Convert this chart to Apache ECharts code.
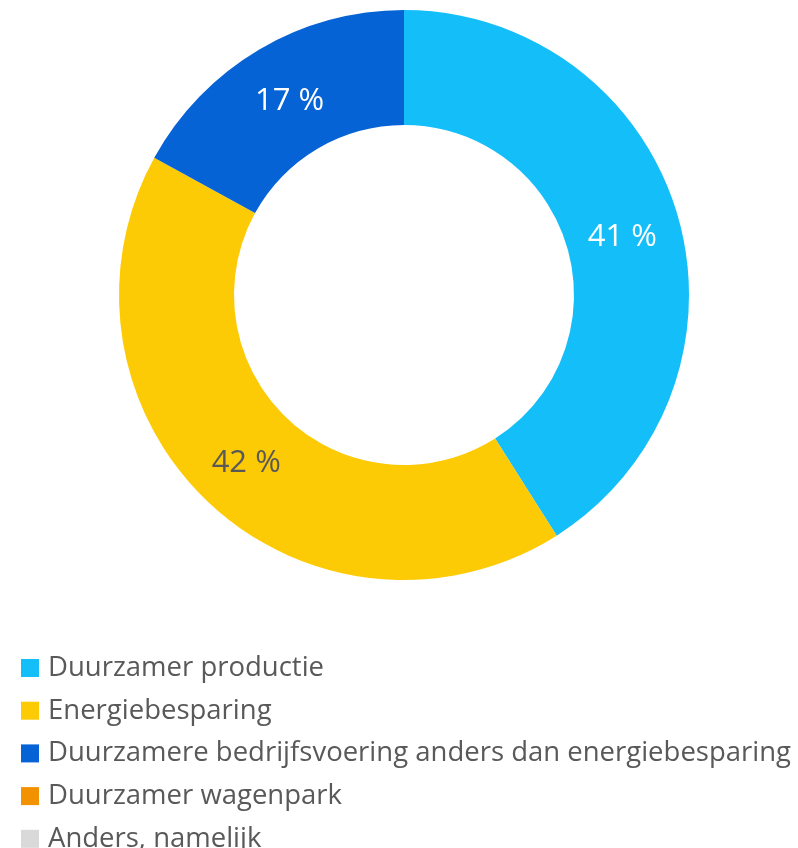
<!DOCTYPE html>
<html>
<head>
<meta charset="utf-8">
<script src="https://cdn.jsdelivr.net/npm/echarts@6/dist/echarts.min.js"></script>
<style>
  html, body { margin: 0; padding: 0; background: #fff; }
  #chart { width: 798px; height: 848px; }
</style>
</head>
<body>
<div id="chart"></div>
<script>
// categories and shares (%)
const categories = [
    'Duurzamer productie',
    'Energiebesparing',
    'Duurzamere bedrijfsvoering anders dan energiebesparing',
    'Duurzamer wagenpark',
    'Anders, namelijk'
];
const shares = [41, 42, 17, 0, 0];
const colors = ['#14BEF9', '#FDCB05', '#0563D6', '#F39200', '#D9D9D9'];
const labelColors = ['#ffffff', '#595959', '#ffffff', '#ffffff', '#ffffff'];
// small nudges so the labels sit like in the original
const labelOffsets = [[-3, 6], [0, 0], [3, 5], [0, 0], [0, 0]];

const chart = echarts.init(document.getElementById('chart'));

const data = categories.map((name, i) => ({
    name: name,
    value: shares[i],
    itemStyle: { color: colors[i] },
    label: { show: shares[i] > 0, color: labelColors[i], offset: labelOffsets[i] }
}));

chart.setOption({
    backgroundColor: '#ffffff',
    animation: false,
    textStyle: { fontFamily: 'Open Sans' },
    legend: {
        orient: 'vertical',
        left: 21,
        top: 654,
        height: 260,
        padding: 0,
        icon: 'rect',
        itemWidth: 18,
        itemHeight: 18,
        itemGap: 14.7,
        selectedMode: false,
        textStyle: {
            fontSize: 27.5, lineHeight: 23, color: '#595959',
            fontFamily: 'Open Sans', padding: [0, 0, 0, 4]
        },
        data: categories
    },
    series: [{
        type: 'pie',
        center: [404, 295],
        radius: [170, 285],
        startAngle: 90,
        clockwise: true,
        avoidLabelOverlap: false,
        label: {
            position: 'inside',
            fontSize: 31,
            fontFamily: 'Open Sans',
            formatter: p => p.value + ' %'
        },
        labelLine: { show: false },
        emphasis: { disabled: true },
        data: data
    }]
});
</script>
</body>
</html>
